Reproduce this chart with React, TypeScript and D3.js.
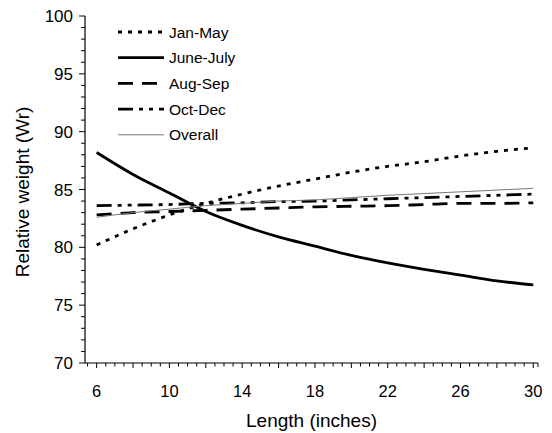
import { useMemo } from 'react'
import * as d3 from 'd3'

// Relative weight by length, one row per season
const LENGTHS = [6, 8, 10, 12, 14, 16, 18, 20, 22, 24, 26, 28, 30]
const JAN_MAY = [80.2, 81.6, 82.8, 83.8, 84.6, 85.3, 85.9, 86.5, 87.0, 87.4, 87.9, 88.3, 88.6]
const JUNE_JULY = [88.2, 86.3, 84.7, 83.1, 81.9, 80.9, 80.1, 79.3, 78.65, 78.1, 77.6, 77.1, 76.75]
const AUG_SEP = [82.8, 83.0, 83.1, 83.2, 83.3, 83.4, 83.5, 83.55, 83.6, 83.7, 83.8, 83.8, 83.85]
const OCT_DEC = [83.6, 83.65, 83.7, 83.8, 83.85, 83.95, 84.0, 84.1, 84.2, 84.3, 84.4, 84.5, 84.6]
const OVERALL = [82.6, 83.0, 83.3, 83.6, 83.8, 84.0, 84.1, 84.3, 84.5, 84.65, 84.8, 84.95, 85.1]

const X_TICKS = [6, 10, 14, 18, 22, 26, 30]
const Y_TICKS = [70, 75, 80, 85, 90, 95, 100]

const SERIES = [
  { name: 'Jan-May', values: JAN_MAY, dash: '4,6', width: 2.8, color: '#000' },
  { name: 'June-July', values: JUNE_JULY, dash: null, width: 2.8, color: '#000' },
  { name: 'Aug-Sep', values: AUG_SEP, dash: '15,9', width: 2.8, color: '#000' },
  { name: 'Oct-Dec', values: OCT_DEC, dash: '15,6,4,6,4,6', width: 2.8, color: '#000' },
  { name: 'Overall', values: OVERALL, dash: null, width: 1, color: '#777' },
]

const FONT = '"Liberation Sans", Arial, Helvetica, sans-serif'

export default function App() {
  const width = 552
  const height = 433
  const left = 85
  const right = 538
  const top = 16
  const bottom = 363

  const x = useMemo(() => d3.scaleLinear().domain([5.36, 30.26]).range([left, right]), [])
  const y = useMemo(() => d3.scaleLinear().domain([70, 100]).range([bottom, top]), [])

  const line = d3.line<[number, number]>()
    .x(d => x(d[0]))
    .y(d => y(d[1]))
    .curve(d3.curveMonotoneX)

  // minor ticks
  const xMinor = d3.range(5.5, 30.26, 0.5)
  const yMinor = d3.range(70, 100.01, 1)

  return (
    <svg width={width} height={height} style={{ position: 'absolute', left: 0, top: 0 }}>
      <rect width={width} height={height} fill="#fff" />

      {/* axes */}
      <line x1={left} x2={left} y1={top} y2={bottom} stroke="#000" strokeWidth={1.2} />
      <line x1={left} x2={right} y1={bottom} y2={bottom} stroke="#000" strokeWidth={1.2} />

      {yMinor.map(v => (
        <line key={'ym' + v} x1={left - (v % 5 === 0 ? 6 : 4)} x2={left} y1={y(v)} y2={y(v)} stroke="#000" strokeWidth={1} />
      ))}
      {Y_TICKS.map(v => (
        <text key={'yt' + v} x={left - 12} y={y(v)} dy="0.36em" textAnchor="end" fontFamily={FONT} fontSize={17}>
          {v}
        </text>
      ))}

      {xMinor.map(v => (
        <line key={'xm' + v} x1={x(v)} x2={x(v)} y1={bottom} y2={bottom + (v % 2 === 0 ? 5 : 3.5)} stroke="#000" strokeWidth={1} />
      ))}
      <line x1={right} x2={right} y1={bottom} y2={bottom + 4} stroke="#000" strokeWidth={1} />
      {X_TICKS.map(v => (
        <text key={'xt' + v} x={x(v)} y={bottom + 34} textAnchor="middle" fontFamily={FONT} fontSize={16.5}>
          {v}
        </text>
      ))}

      <text x={(left + right) / 2} y={bottom + 64} textAnchor="middle" fontFamily={FONT} fontSize={19}>
        Length (inches)
      </text>
      <text
        transform={`translate(29,192) rotate(-90)`}
        textAnchor="middle"
        fontFamily={FONT}
        fontSize={19}
      >
        Relative weight (Wr)
      </text>

      {/* series */}
      {SERIES.map(s => (
        <path
          key={s.name}
          d={line(LENGTHS.map((l, i) => [l, s.values[i]] as [number, number])) || ''}
          fill="none"
          stroke={s.color}
          strokeWidth={s.width}
          strokeDasharray={s.dash || undefined}
        />
      ))}

      {/* legend */}
      {SERIES.map((s, i) => {
        const ly = 32 + i * 25.7
        return (
          <g key={'lg' + s.name}>
            <line
              x1={118}
              x2={164}
              y1={ly}
              y2={ly}
              stroke={s.color}
              strokeWidth={s.width}
              strokeDasharray={s.dash || undefined}
            />
            <text x={169} y={ly} dy="0.36em" fontFamily={FONT} fontSize={15.5}>
              {s.name}
            </text>
          </g>
        )
      })}
    </svg>
  )
}
